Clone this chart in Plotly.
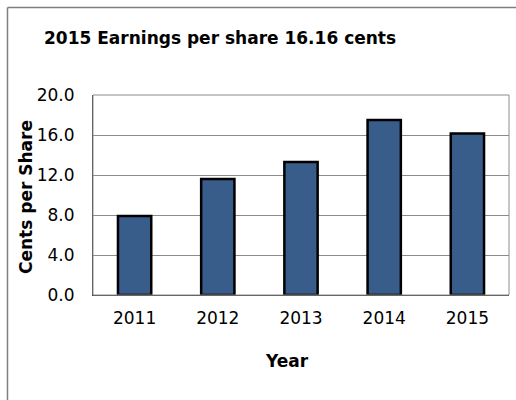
import plotly.graph_objects as go

years = ["2011", "2012", "2013", "2014", "2015"]
eps_cents = [7.9, 11.6, 13.3, 17.5, 16.16]
y_ticks = [0, 4, 8, 12, 16, 20]
y_tick_labels = ["0.0", "4.0", "8.0", "12.0", "16.0", "20.0"]

FONT = "DejaVu Sans"

fig = go.Figure()
fig.add_trace(go.Bar(
    x=years, y=eps_cents, width=0.4,
    marker=dict(color="#385D8A", line=dict(color="#000000", width=2.5)),
))

W, H = 516, 400
L, R, T, B = 93, 7, 95, 105
pw, ph = W - L - R, H - T - B

def px_x(p):
    return (p - L) / pw

def px_y(p):
    return (H - B - p) / ph

fig.update_layout(
    width=W, height=H, autosize=False,
    margin=dict(l=L, r=R, t=T, b=B, autoexpand=False),
    paper_bgcolor="white", plot_bgcolor="white",
    showlegend=False,
    font=dict(family=FONT, color="#000000", size=17),
    xaxis=dict(showgrid=False, ticks="", showline=True, linecolor="#404040", linewidth=1,
               tickfont=dict(size=17, family=FONT), ticklabelstandoff=8, automargin=False,
               range=[-0.5, 4.5]),
    yaxis=dict(range=[0, 20], tickvals=y_ticks, ticktext=y_tick_labels, showgrid=True,
               gridcolor="#8c8c8c", gridwidth=1, ticks="", showline=True,
               linecolor="#404040", linewidth=1, zeroline=False, automargin=False,
               tickfont=dict(size=17, family=FONT), ticklabelstandoff=14),
    shapes=[
        dict(type="rect", xref="paper", yref="paper", x0=0, x1=1, y0=0, y1=1,
             line=dict(color="#8c8c8c", width=1), layer="above"),
        dict(type="line", xref="paper", yref="paper",
             x0=px_x(7.5), x1=px_x(7.5), y0=px_y(420), y1=px_y(7.5),
             line=dict(color="#7f7f7f", width=1.5), layer="below"),
        dict(type="line", xref="paper", yref="paper",
             x0=px_x(7.5), x1=px_x(540), y0=px_y(7.5), y1=px_y(7.5),
             line=dict(color="#7f7f7f", width=1.5), layer="below"),
    ],
    annotations=[
        dict(text="<b>2015 Earnings per share 16.16 cents</b>", xref="paper", yref="paper",
             x=px_x(42), y=px_y(38), xanchor="left", yanchor="middle", showarrow=False,
             font=dict(size=17, family=FONT)),
        dict(text="<b>Cents per Share</b>", xref="paper", yref="paper",
             x=px_x(26), y=px_y(197), xanchor="center", yanchor="middle", showarrow=False,
             textangle=-90, font=dict(size=17, family=FONT)),
        dict(text="<b>Year</b>", xref="paper", yref="paper",
             x=px_x(287), y=px_y(361), xanchor="center", yanchor="middle", showarrow=False,
             font=dict(size=17, family=FONT)),
    ],
)

fig.write_html(
    "out.html",
    config={"responsive": False, "displayModeBar": False},
    post_script="document.body.style.margin='0';document.body.style.overflow='hidden';",
)
